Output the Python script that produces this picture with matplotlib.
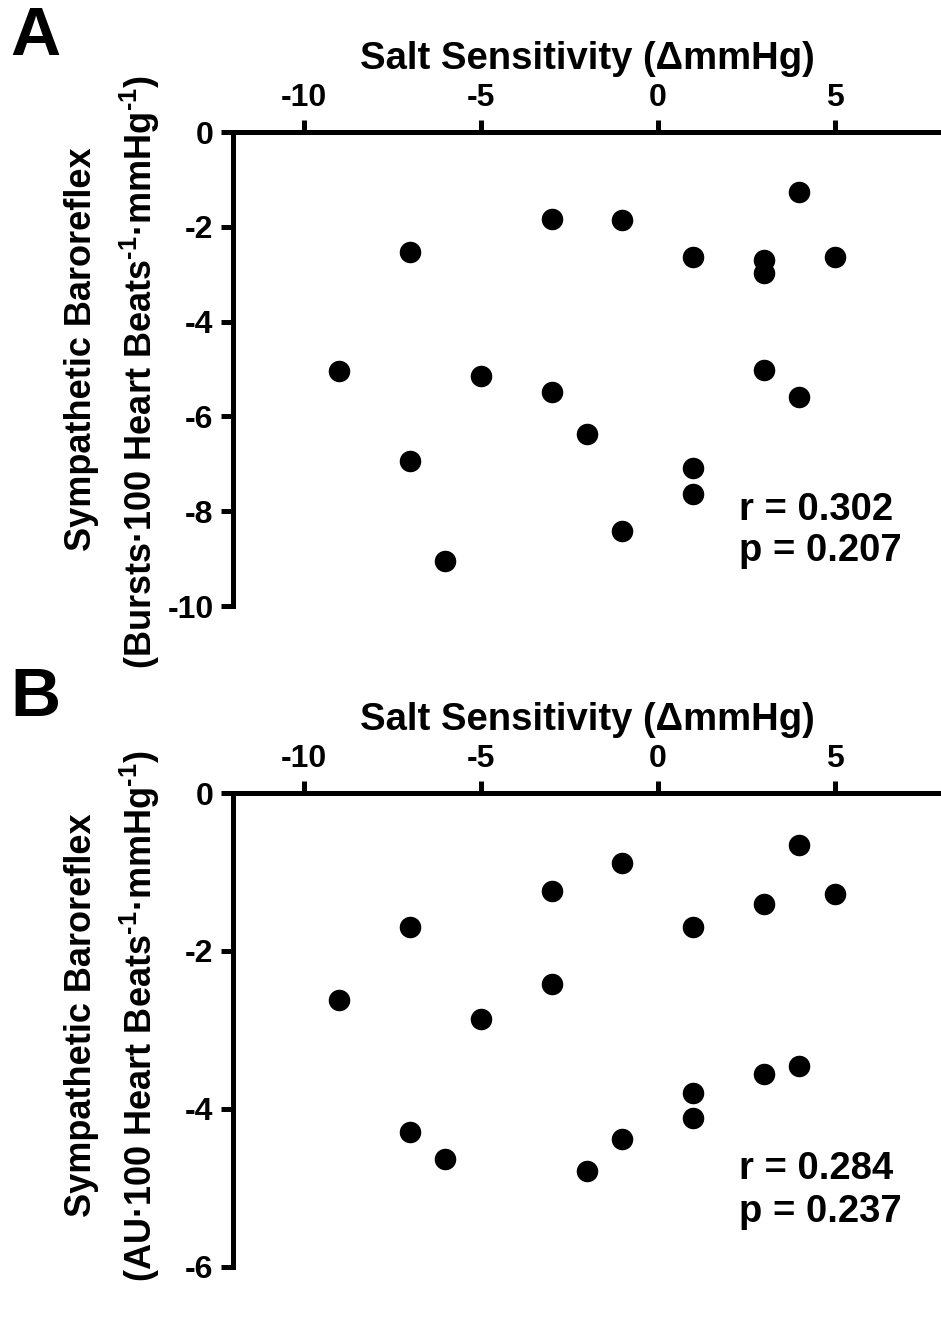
import numpy as np
import matplotlib
matplotlib.use("Agg")
import matplotlib.pyplot as plt

plt.rcParams['font.family'] = ['Liberation Sans', 'DejaVu Sans']
plt.rcParams['font.weight'] = 'bold'
plt.rcParams['mathtext.fontset'] = 'custom'
plt.rcParams['mathtext.rm'] = 'Liberation Sans:bold'
plt.rcParams['mathtext.bf'] = 'Liberation Sans:bold'

# salt sensitivity (x) vs baroreflex gain (y)
salt_a = [-9, -7, -7, -6, -5, -3, -3, -2, -1, -1, 1, 1, 1, 3, 3, 3, 4, 4, 5]
baro_a = [-5.04, -2.53, -6.94, -9.05, -5.15, -1.84, -5.49, -6.37, -1.86, -8.42,
          -2.64, -7.09, -7.64, -2.70, -2.97, -5.02, -1.27, -5.59, -2.64]

salt_b = [-9, -7, -7, -6, -5, -3, -3, -2, -1, -1, 1, 1, 1, 3, 3, 4, 4, 5]
baro_b = [-2.62, -1.70, -4.29, -4.63, -2.86, -1.24, -2.42, -4.78, -0.89, -4.38,
          -1.70, -3.80, -4.11, -1.41, -3.56, -0.66, -3.46, -1.28]

xticks = [-10, -5, 0, 5]
yticks_a = [0, -2, -4, -6, -8, -10]
yticks_b = [0, -2, -4, -6]

stats_a = ["r = 0.302", "p = 0.207"]
stats_b = ["r = 0.284", "p = 0.237"]

ylab1 = "Sympathetic Baroreflex"
ylab2_a = r"(Bursts·100 Heart Beats$^{\text{-1}}$·mmHg$^{\text{-1}}$)"
ylab2_b = r"(AU·100 Heart Beats$^{\text{-1}}$·mmHg$^{\text{-1}}$)"

W, H = 941, 1317
fig = plt.figure(figsize=(W / 100, H / 100), dpi=100)


def panel(top_px, x, y, yticks, stats, stat_y, ylab2, lab_y, letter):
    bottom = (H - top_px - 474) / H
    ax = fig.add_axes([233 / W, bottom, (W - 233) / W, 474 / H])
    ax.plot(x, y, 'o', color='black', ms=14.5, clip_on=False)
    ax.set_xlim(-12, 8)
    ax.set_ylim(min(yticks), 0)
    ax.set_xticks(xticks)
    ax.set_yticks(yticks)
    ax.set_xticklabels([str(t) for t in xticks])
    ax.set_yticklabels([str(t) for t in yticks])
    for s in ['right', 'bottom']:
        ax.spines[s].set_visible(False)
    for s in ['top', 'left']:
        ax.spines[s].set_linewidth(3.6)
    ax.xaxis.tick_top()
    ax.xaxis.set_label_position('top')
    ax.tick_params(width=3.6, length=9, labelsize=23, direction='out', pad=5)
    ax.set_xlabel("Salt Sensitivity (ΔmmHg)", fontsize=27.5, fontweight='bold', labelpad=10)
    ax.text(2.3, stat_y[0], stats[0], fontsize=27.5, fontweight='bold', va='center')
    ax.text(2.3, stat_y[1], stats[1], fontsize=27.5, fontweight='bold', va='center')
    fig.text(82 / W, 1 - lab_y[0] / H, ylab1, rotation=90, fontsize=26,
             fontweight='bold', ha='center', va='center')
    fig.text(140 / W, 1 - lab_y[1] / H, ylab2, rotation=90, fontsize=26,
             fontweight='bold', ha='center', va='center')
    fig.text(35 / W, 1 - (top_px - 95) / H, letter, fontsize=50, fontweight='bold',
             ha='center', va='center')
    return ax


panel(132, salt_a, baro_a, yticks_a, stats_a, [-7.97, -8.85], ylab2_a, [349, 372], "A")
panel(793, salt_b, baro_b, yticks_b, stats_b, [-4.76, -5.3], ylab2_b, [1015, 1016], "B")

fig.savefig("out.png", dpi=100)
